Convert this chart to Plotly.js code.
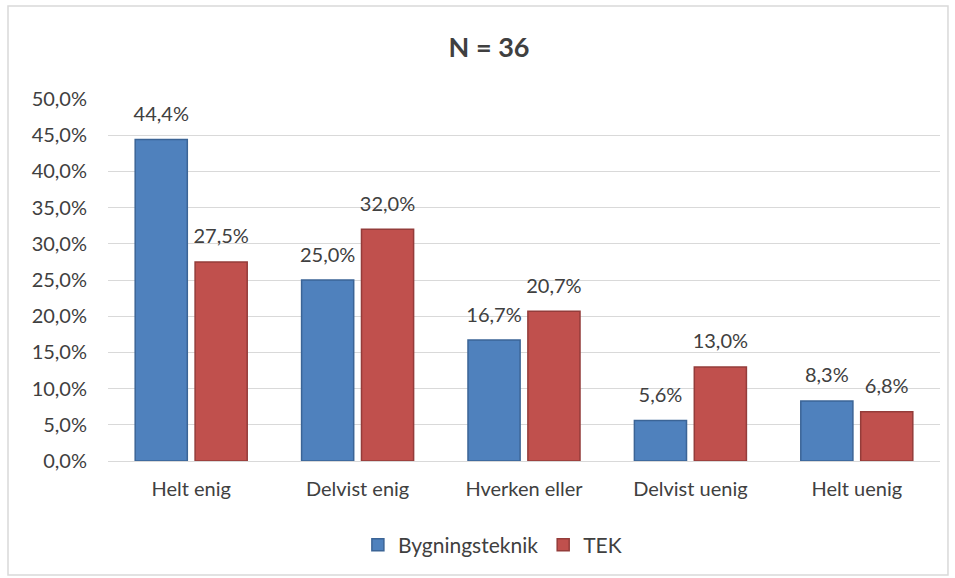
<!DOCTYPE html>
<html>
<head>
<meta charset="utf-8">
<script src="https://cdn.plot.ly/plotly-3.0.1.min.js"></script>
<style>
html,body{margin:0;padding:0;background:#fff;}
#chart{width:955px;height:578px;}
</style>
</head>
<body>
<div id="chart"></div>
<script>
const categories = ["Helt enig", "Delvist enig", "Hverken eller", "Delvist uenig", "Helt uenig"];
const bygningsteknik = [44.4, 25.0, 16.7, 5.6, 8.3];
const tek = [27.5, 32.0, 20.7, 13.0, 6.8];
const yTicks = [0, 5, 10, 15, 20, 25, 30, 35, 40, 45, 50];

const font = "Lato, 'Open Sans', sans-serif";
const txt = '#404040';
const fs = 20;

function bar(name, vals, color, line) {
  return {
    type: 'bar', name: name, x: categories, y: vals,
    marker: {color: color, line: {color: line, width: 1.5}}
  };
}
function labels(name, vals) {
  return {
    type: 'scatter', mode: 'markers+text', name: name, x: categories, y: vals,
    showlegend: false, cliponaxis: false,
    marker: {size: 20, color: 'rgba(0,0,0,0)'},
    texttemplate: '%{y:.1f}%', textposition: 'top center',
    textfont: {family: font, size: fs, color: txt}
  };
}

const traces = [
  bar('Bygningsteknik', bygningsteknik, '#4F81BD', '#3B6496'),
  bar('TEK', tek, '#C0504D', '#943C3A'),
  labels('Bygningsteknik', bygningsteknik),
  labels('TEK', tek)
];

const layout = {
  width: 955, height: 578,
  margin: {l: 108, r: 15, t: 99, b: 117},
  paper_bgcolor: '#fff', plot_bgcolor: '#fff',
  separators: ',.',
  font: {family: font, size: fs, color: txt},
  title: {text: '<b>N = 36</b>', font: {family: font, size: 27, color: txt}, xref: 'paper', x: 0.458, xanchor: 'center', y: 0.918, yanchor: 'middle'},
  barmode: 'group', bargap: 0.28, bargroupgap: 0.13,
  scattermode: 'group', scattergap: 0.28,
  showlegend: true,
  legend: {orientation: 'h', x: 0.462, xanchor: 'center', y: -0.232, yanchor: 'middle', font: {family: font, size: 21, color: txt}, itemwidth: 30},
  xaxis: {
    type: 'category', showgrid: false, showline: true, linecolor: '#D9D9D9', linewidth: 1,
    ticks: '', tickfont: {family: font, size: fs, color: txt}, ticklabelstandoff: 10
  },
  yaxis: {
    range: [0, 50], tickvals: yTicks, ticktext: yTicks.map(v => v.toFixed(1).replace('.', ',') + '%'),
    showgrid: true, gridcolor: '#D9D9D9', gridwidth: 1, zeroline: false,
    ticks: '', tickfont: {family: font, size: fs, color: txt}, ticklabelstandoff: 20
  },
  shapes: [{
    type: 'rect', xref: 'paper', yref: 'paper',
    x0: -0.1202, x1: 1.0096, y0: -0.3149, y1: 1.2569,
    line: {color: '#D9D9D9', width: 1.5}, fillcolor: 'rgba(0,0,0,0)', layer: 'below'
  }]
};

Plotly.newPlot('chart', traces, layout, {displayModeBar: false, staticPlot: true});
</script>
</body>
</html>
